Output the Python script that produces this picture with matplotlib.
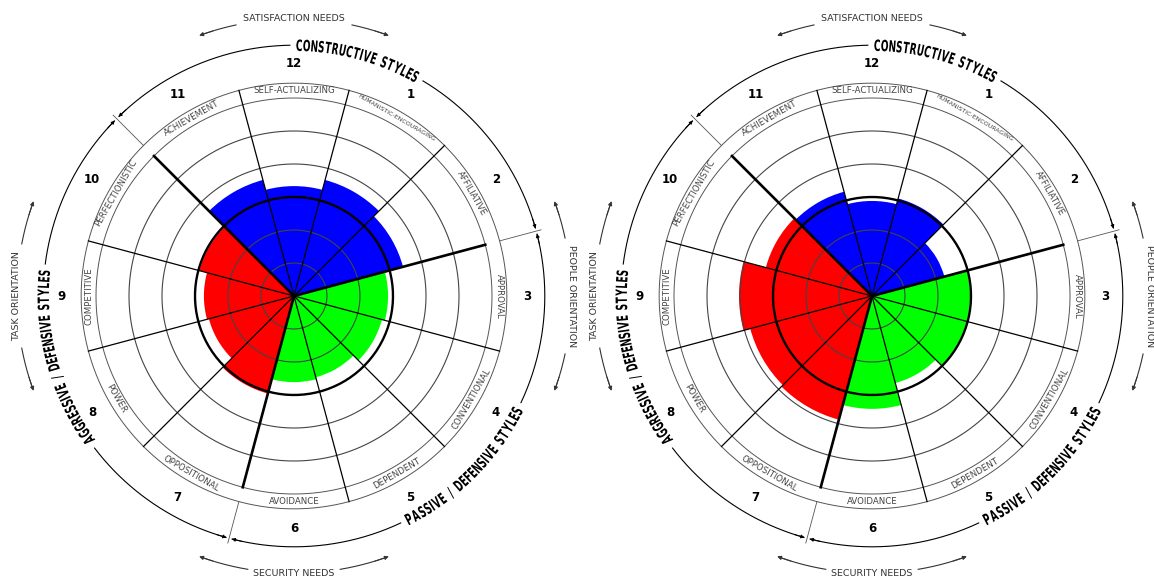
import numpy as np
import matplotlib.pyplot as plt
from matplotlib.textpath import TextPath
from matplotlib.font_manager import FontProperties
from matplotlib.patches import PathPatch
from matplotlib.transforms import Affine2D

#%%
# the twelve styles, numbered clockwise; style 12 sits at the top
styles = ['HUMANISTIC-ENCOURAGING', 'AFFILIATIVE', 'APPROVAL', 'CONVENTIONAL',
          'DEPENDENT', 'AVOIDANCE', 'OPPOSITIONAL', 'POWER', 'COMPETITIVE',
          'PERFECTIONISTIC', 'ACHIEVEMENT', 'SELF-ACTUALIZING']
numbers = ['1', '2', '3', '4', '5', '6', '7', '8', '9', '10', '11', '12']
cluster = ['C', 'C', 'P', 'P', 'P', 'P', 'A', 'A', 'A', 'A', 'C', 'C']

# extent of each style, in rings (ring 3 = the bold 50% circle)
scores_left = [3.64, 3.42, 2.85, 2.76, 2.55, 2.61, 3.06, 2.67, 2.73, 2.97, 3.64, 3.33]
scores_right = [3.06, 2.27, 2.97, 2.97, 2.73, 3.42, 3.88, 3.82, 4.03, 3.33, 3.27, 2.88]

groups = ['CONSTRUCTIVE STYLES', 'PASSIVE / DEFENSIVE STYLES', 'AGGRESSIVE / DEFENSIVE STYLES']
group_mid = [15, 135, 255]
group_flip = [False, True, False]

needs = ['SATISFACTION NEEDS', 'PEOPLE ORIENTATION', 'SECURITY NEEDS', 'TASK ORIENTATION']
needs_mid = [0, 90, 180, 270]
needs_rot = [0, -90, 0, 90]

colours = {'C': '#0000ff', 'P': '#00ff00', 'A': '#ff0000'}

#%%
W, H = 1154, 585
PX = 33.0          # pixels per ring
R_MAX = 8.8
centres = [(294, 289), (872, 289)]

fig = plt.figure(figsize=(W / 100, H / 100), dpi=100)
fig.patch.set_facecolor('white')

ov = fig.add_axes([0, 0, 1, 1], zorder=5)
ov.set_xlim(0, W)
ov.set_ylim(0, H)
ov.set_facecolor('none')
ov.axis('off')

bold = FontProperties(family='DejaVu Sans', weight='bold')


def arc_text(cx, cy, text, mid, r, size=15.5, flip=False, squeeze=0.58, track=1.4):
    # condensed bold lettering laid along a circle, returns span in degrees
    glyphs = []
    for ch in text:
        if ch == ' ':
            glyphs.append((None, size * 0.3))
            continue
        tp = TextPath((0, 0), ch, size=size, prop=bold)
        glyphs.append((tp, tp.get_extents().width * squeeze + track))
    span = np.degrees(sum(g[1] for g in glyphs) / r)
    sgn = -1 if flip else 1
    th = mid - sgn * span / 2
    cap = size * 0.73
    for tp, w in glyphs:
        half = np.degrees(w / 2 / r)
        th += sgn * half
        if tp is not None:
            ext = tp.get_extents()
            rot = 180 - th if flip else -th
            x = cx + r * np.sin(np.radians(th))
            y = cy + r * np.cos(np.radians(th))
            tr = (Affine2D().translate(-(ext.x0 + ext.width / 2), -cap / 2)
                  .scale(squeeze, 1).rotate_deg(rot).translate(x, y))
            ov.add_patch(PathPatch(tp, transform=tr + ov.transData,
                                   fc='black', ec='none', lw=0))
        th += sgn * half
    return span


def arrow(ax, t_from, t_to, r, col, ms):
    ax.annotate('', xy=(np.radians(t_to), r), xytext=(np.radians(t_from), r),
                arrowprops=dict(arrowstyle='-|>', color=col, lw=0.7,
                                mutation_scale=ms, shrinkA=0, shrinkB=0),
                annotation_clip=False)


def arc(ax, t0, t1, r, **kw):
    t = np.radians(np.linspace(t0, t1, 200))
    ax.plot(t, np.full_like(t, r), solid_capstyle='butt', **kw)


def label_rot(th):
    th = th % 360
    if 90 < th < 270:
        return 180 - th
    rot = -th
    if rot <= -180:
        rot += 360
    return rot


#%%
for (cx, cy), scores in zip(centres, [scores_left, scores_right]):
    side = 2 * R_MAX * PX
    ax = fig.add_axes([(cx - side / 2) / W, (cy - side / 2) / H, side / W, side / H],
                      projection='polar')
    ax.set_theta_zero_location('N')
    ax.set_theta_direction(-1)
    ax.set_ylim(0, R_MAX)
    ax.set_facecolor('none')
    ax.axis('off')

    angles = np.arange(1, 13) * 30
    ax.bar(np.radians(angles), scores, width=np.radians(30), bottom=0,
           color=[colours[c] for c in cluster], edgecolor='none', zorder=1)

    # rings (seam tucked under the 15 degree spoke)
    for r in [1, 2, 4, 5]:
        arc(ax, 15, 375, r, color='#444444', lw=0.8, zorder=2)
    arc(ax, 15, 375, 3, color='black', lw=1.7, zorder=3)
    arc(ax, 15, 375, 6.0, color='#555555', lw=0.7, zorder=2)
    arc(ax, 15, 375, 6.45, color='#555555', lw=0.7, zorder=2)

    # spokes between styles
    for b in np.arange(15, 360, 30):
        if b in (75, 195, 315):
            ax.plot([np.radians(b)] * 2, [0, 6.0], color='black', lw=1.9, zorder=4)
            ax.plot([np.radians(b)] * 2, [6.45, 7.75], color='#555555', lw=0.6, zorder=4)
        else:
            ax.plot([np.radians(b)] * 2, [0, 6.45], color='black', lw=0.9, zorder=4)

    # style names and numbers
    for a, name, num in zip(angles, styles, numbers):
        fs = 6.2 if len(name) <= 16 else 6.2 * 16 / len(name)
        ax.text(np.radians(a), 6.22, name, fontsize=fs, color='#444444',
                rotation=label_rot(a), rotation_mode='anchor',
                ha='center', va='center')
        ax.text(np.radians(a), 7.06, num, fontsize=8.5, fontweight='bold',
                ha='center', va='center')

    # cluster names on the outer arc
    r_out = 7.6
    for name, mid, flip in zip(groups, group_mid, group_flip):
        span = arc_text(cx, cy, name, mid, r_out * PX, flip=flip)
        g0, g1 = mid - 60, mid + 60
        arc(ax, g0 + 0.6, mid - span / 2 - 1.2, r_out, color='black', lw=0.8)
        arc(ax, mid + span / 2 + 1.2, g1 - 0.6, r_out, color='black', lw=0.8)
        arrow(ax, g0 + 3, g0 + 0.6, r_out, 'black', 5)
        arrow(ax, g1 - 3, g1 - 0.6, r_out, 'black', 5)

    # needs / orientation arrows
    r_need = 8.4
    for name, mid, rot in zip(needs, needs_mid, needs_rot):
        half = np.degrees(len(name) * 6.0 / 2 / (r_need * PX)) + 0.8
        ax.text(np.radians(mid), r_need, name, fontsize=6.8, color='#333333',
                rotation=rot, ha='center', va='center')
        arc(ax, mid + half, mid + 19, r_need, color='#333333', lw=0.8)
        arc(ax, mid - half, mid - 19, r_need, color='#333333', lw=0.8)
        arrow(ax, mid + 17, mid + 20, r_need, '#333333', 6)
        arrow(ax, mid - 17, mid - 20, r_need, '#333333', 6)

plt.savefig('out.png', dpi=100, facecolor='white')
